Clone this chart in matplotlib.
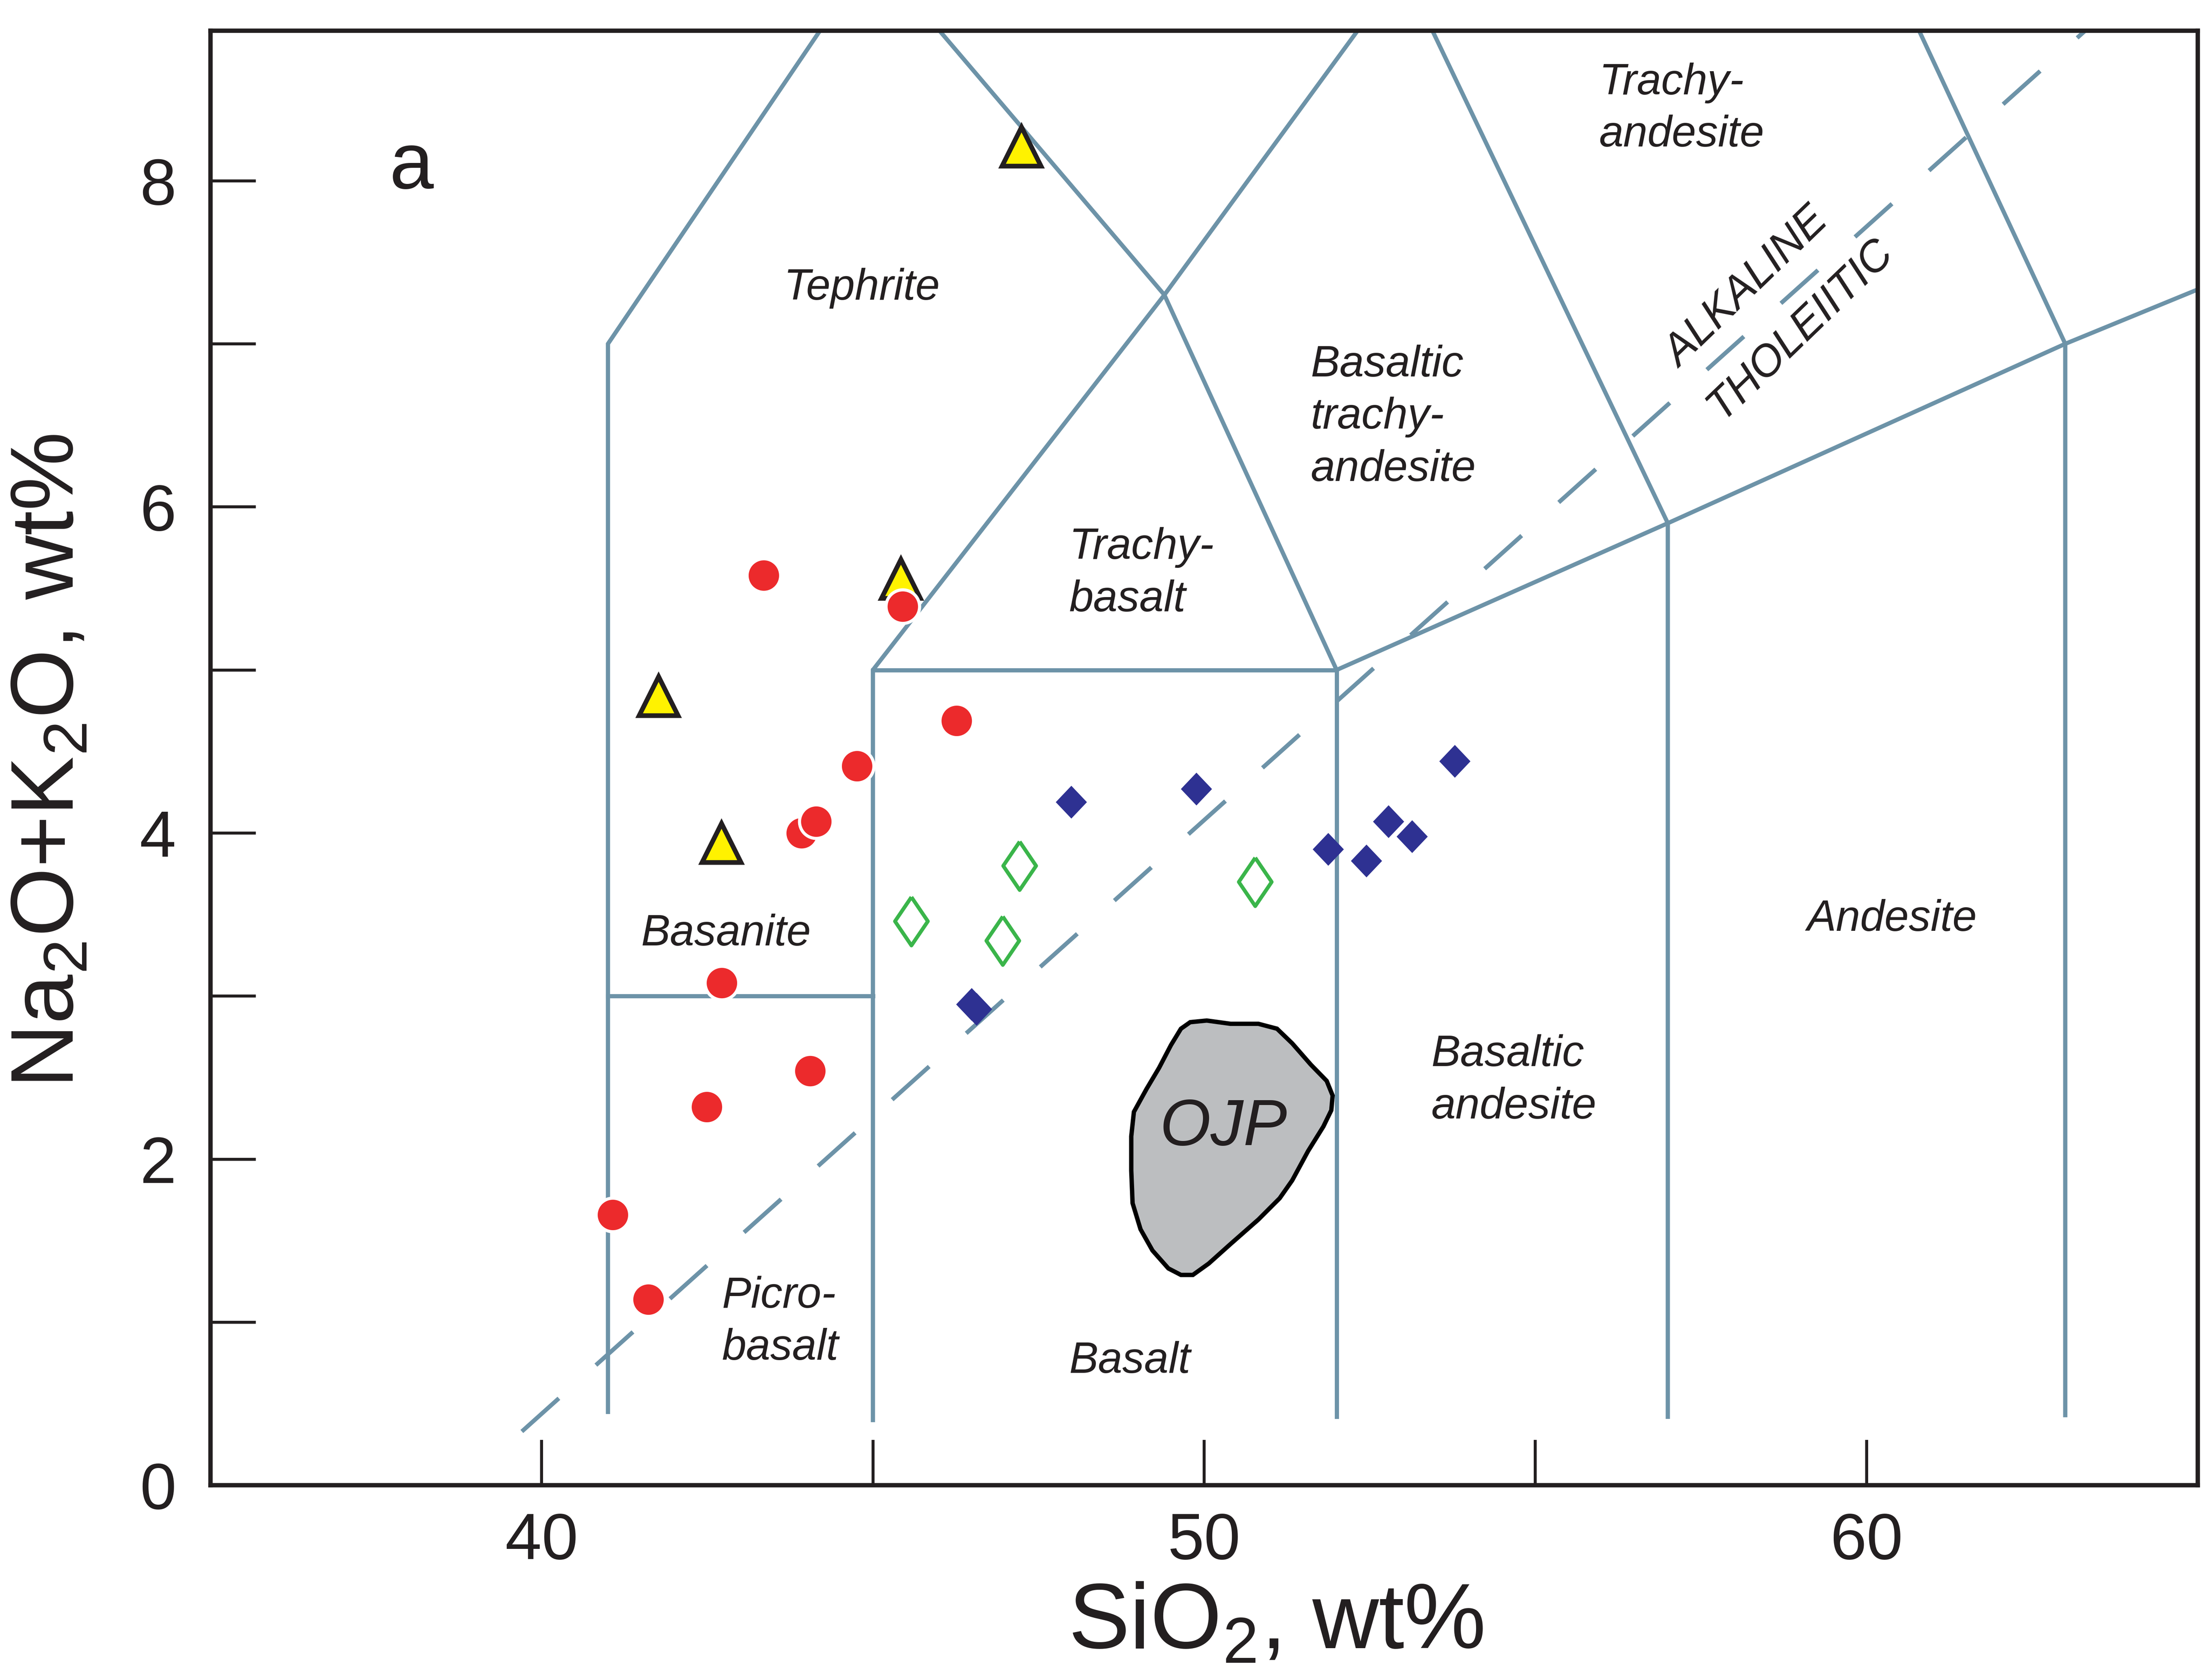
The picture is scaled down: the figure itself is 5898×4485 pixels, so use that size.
import numpy as np
import matplotlib
matplotlib.use("Agg")
import matplotlib.pyplot as plt
from matplotlib.ticker import FixedLocator

plt.rcParams['font.family'] = ['Liberation Sans', 'DejaVu Sans']
plt.rcParams['mathtext.fontset'] = 'custom'
plt.rcParams['mathtext.rm'] = 'Liberation Sans'
plt.rcParams['mathtext.it'] = 'Liberation Sans:italic'

# Proben (SiO2, Na2O+K2O)
red_x = [43.35, 45.45, 46.26, 44.76, 43.92, 44.14, 42.72, 44.05, 42.49, 41.07, 41.61]
red_y = [5.58, 5.39, 4.69, 4.41, 4.00, 4.07, 3.08, 2.54, 2.32, 1.66, 1.14]

tri_x = [47.24, 45.42, 41.76, 42.71]
tri_y = [8.21, 5.56, 4.84, 3.94]

blue_x = [47.99, 49.88, 53.78, 52.78, 53.14, 51.87, 52.45, 46.49, 46.56]
blue_y = [4.19, 4.27, 4.44, 4.07, 3.98, 3.90, 3.83, 2.95, 2.92]

green_x = [47.21, 45.58, 46.96, 50.77]
green_y = [3.80, 3.46, 3.34, 3.70]

# OJP Feld
ojp_x = [49.79, 50.04, 50.40, 50.82, 51.10, 51.33, 51.61, 51.85, 51.94, 51.92,
         51.80, 51.57, 51.33, 51.14, 50.82, 50.40, 50.07, 49.83, 49.65, 49.46,
         49.22, 49.04, 48.92, 48.90, 48.90, 48.94, 49.13, 49.32, 49.50, 49.65]
ojp_y = [2.84, 2.85, 2.83, 2.83, 2.80, 2.71, 2.58, 2.48, 2.39, 2.30,
         2.20, 2.05, 1.87, 1.76, 1.63, 1.48, 1.36, 1.29, 1.29, 1.33,
         1.44, 1.57, 1.73, 1.93, 2.14, 2.29, 2.43, 2.56, 2.70, 2.80]

# TAS Grenzlinien (Le Bas et al.)
tas_lines = [
    ([41, 41, 45], [0.45, 7, 9.4]),
    ([41, 45], [3, 3]),
    ([45, 45, 49.4, 53], [0.4, 5, 7.3, 9.3]),
    ([45, 52, 52], [5, 5, 0.42]),
    ([52, 49.4, 45], [5, 7.3, 9.4]),
    ([52, 57, 63, 69], [5, 5.9, 7, 8]),
    ([57, 57, 53], [0.42, 5.9, 9.3]),
    ([63, 63, 57.6], [0.43, 7, 11.7]),
]
alk_x = [39.7, 63.3]
alk_y = [0.33, 8.92]

# Feldbeschriftungen
fields = [
    ("Tephrite", 44.83, 7.34, 'center'),
    ("Trachy-\nbasalt", 47.96, 5.59, 'left'),
    ("Basaltic\ntrachy-\nandesite", 51.61, 6.55, 'left'),
    ("Trachy-\nandesite", 55.96, 8.44, 'left'),
    ("Basanite", 41.50, 3.38, 'left'),
    ("Picro-\nbasalt", 42.72, 1.00, 'left'),
    ("Basalt", 47.96, 0.76, 'left'),
    ("Basaltic\nandesite", 53.43, 2.48, 'left'),
    ("Andesite", 59.10, 3.47, 'left'),
]

line_col = '#6d93a8'
txt_col = '#231f20'

fig = plt.figure(figsize=(5898 / 300, 4485 / 300), dpi=300)
ax = fig.add_axes([0.0953, 0.1159, 0.8996, 0.8658])

for xs, ys in tas_lines:
    ax.plot(xs, ys, color=line_col, lw=2.7, solid_joinstyle='miter', zorder=1)
ax.plot(alk_x, alk_y, color=line_col, lw=2.7, dashes=(11.8, 11.8), zorder=1)

ax.fill(ojp_x, ojp_y, facecolor='#bcbec0', edgecolor='black', lw=2.8, zorder=2)
ax.text(50.29, 2.19, "OJP", fontsize=42, style='italic', ha='center', va='center',
        color=txt_col, zorder=3)

# Marker
diamond = [(0, 1), (0.95, 0), (0, -1), (-0.95, 0), (0, 1)]
thin_diamond = [(0, 1), (0.68, 0), (0, -1), (-0.68, 0), (0, 1)]

ax.plot(blue_x, blue_y, ls='none', marker=diamond, ms=21, mfc='#2e3192', mec='none', zorder=4)
ax.plot(green_x, green_y, ls='none', marker=thin_diamond, ms=31, mfc='white', mec='#3ab54a',
        mew=2.4, zorder=4)
ax.plot(tri_x, tri_y, ls='none', marker='^', ms=25, mfc='#fff200', mec='#231f20', mew=3,
        zorder=5)
ax.plot(red_x, red_y, ls='none', marker='o', ms=21.5, mfc='#ec2a2c', mec='white', mew=2,
        zorder=6)

for label, x, y, ha in fields:
    ax.text(x, y, label, fontsize=28, style='italic', ha=ha, va='center',
            multialignment='left', linespacing=1.36, color=txt_col, zorder=3)

ax.text(58.2, 7.34, "ALKALINE", fontsize=28, style='italic', rotation=44,
        ha='center', va='center', rotation_mode='anchor', color=txt_col)
ax.text(59.0, 7.09, "THOLEIITIC", fontsize=28, style='italic', rotation=44,
        ha='center', va='center', rotation_mode='anchor', color=txt_col)

ax.text(37.7, 8.08, "a", fontsize=51, ha='left', va='center', color=txt_col)

ax.set_xlim(35, 65)
ax.set_ylim(0, 8.92)

ax.xaxis.set_major_locator(FixedLocator([40, 50, 60]))
ax.xaxis.set_minor_locator(FixedLocator([45, 55]))
ax.yaxis.set_major_locator(FixedLocator([0, 2, 4, 6, 8]))
ax.yaxis.set_minor_locator(FixedLocator([1, 3, 5, 7]))
ax.tick_params(which='both', direction='in', length=29, width=1.9, color=txt_col,
               top=False, right=False)
ax.tick_params(axis='x', which='major', labelsize=42, pad=17, labelcolor=txt_col)
ax.tick_params(axis='y', which='major', labelsize=42, pad=22, labelcolor=txt_col)

for sp in ax.spines.values():
    sp.set_linewidth(2.8)
    sp.set_color(txt_col)

ax.set_xlabel("SiO$_2$, wt%", fontsize=59, color=txt_col)
ax.set_ylabel("Na$_2$O+K$_2$O, wt%", fontsize=57, color=txt_col)
ax.xaxis.set_label_coords(0.536, -0.066)
ax.yaxis.set_label_coords(-0.06, 0.498)

fig.savefig("out.png", dpi=300)
